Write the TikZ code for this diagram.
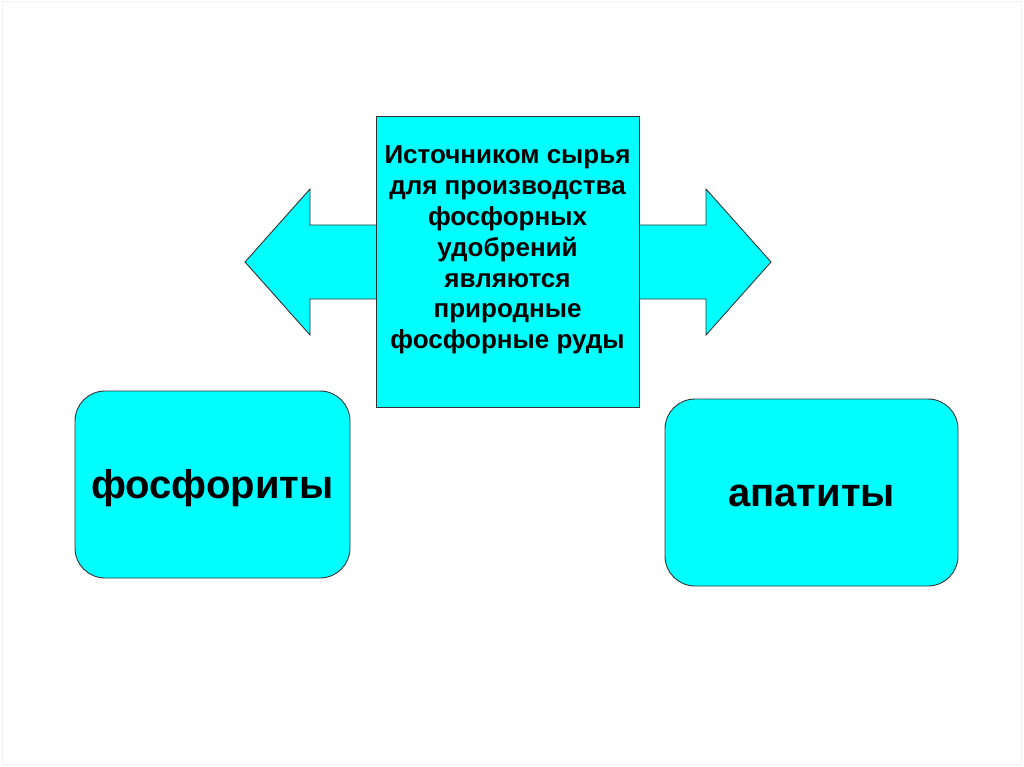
\documentclass[tikz,border=0pt]{standalone}
\usepackage{fontspec}
\setmainfont{Liberation Sans}
\definecolor{aqua}{RGB}{0,255,255}
\begin{document}
\begin{tikzpicture}[x=1pt,y=-1pt,
  shapefill/.style={fill=aqua, draw=black!80, line width=0.9pt},
  roundbox/.style={shapefill, rounded corners=30pt},
  bigtext/.style={font=\fontsize{40}{48}\selectfont\bfseries, text=black},
  midtext/.style={font=\fontsize{26}{30.8}\selectfont\bfseries, align=center, text=black}]
\useasboundingbox (0,0) rectangle (1024,767);
\fill[white] (0,0) rectangle (1024,767);
\draw[black!6, line width=1pt] (2,2) rectangle (1021,764);
% double arrow behind the box
\draw[shapefill, line join=miter]
  (245,262) -- (310,189) -- (310,225) -- (706,225) -- (706,189) -- (771,262)
  -- (706,335) -- (706,299) -- (310,299) -- (310,335) -- cycle;
% central box
\draw[shapefill] (376,116) rectangle (639,407);
\node[midtext] (src) at (507.5,250) {Источником сырья\\для производства\\фосфорных\\удобрений\\являются\\природные\\фосфорные руды};
% rounded boxes
\draw[roundbox] (75,391) rectangle (350,578);
\node[bigtext] (fos) at (212.5,488) {фосфориты};
\draw[roundbox] (665,399) rectangle (958,586);
\node[bigtext] (apa) at (811.5,496) {апатиты};
\end{tikzpicture}
\end{document}
